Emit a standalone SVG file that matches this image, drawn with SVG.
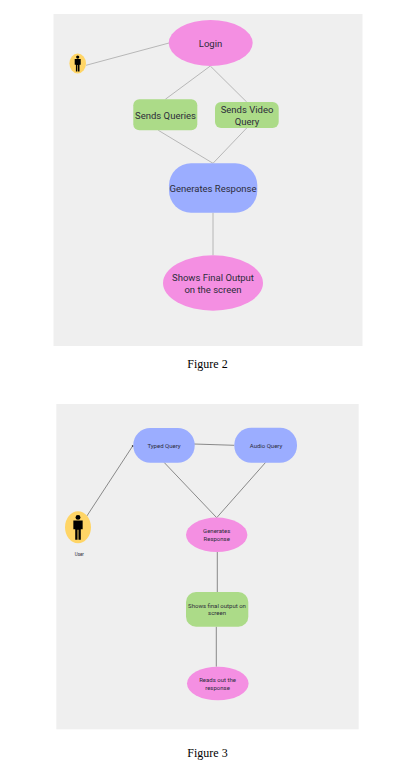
<svg xmlns="http://www.w3.org/2000/svg" width="415" height="766" viewBox="0 0 415 766">
<style>
.panel{fill:#efefef}
.pink{fill:#f48fe2}
.green{fill:#acdb88}
.blue{fill:#9badff}
.yellow{fill:#ffd566}
.t{font-family:"Roboto","Liberation Sans",sans-serif;fill:#2c2c3a;text-anchor:middle}
.a{font-size:9.5px}
.b{font-size:6px}
.cap{font-family:"Liberation Serif",serif;font-size:12px;fill:#000;text-anchor:middle}
.l1{stroke:#a8a8a8;stroke-width:.8;fill:none}
.l2{stroke:#6e6e6e;stroke-width:.8;fill:none}
</style>
<defs>
<g id="man"><circle cx="0" cy="-6.4" r="1.6"/><path d="M-3-4.4H3V1.2H1.8V8H.3V1.6H-.3V8H-1.8V1.2H-3Z"/></g>
</defs>
<rect class="panel" x="53.5" y="14" width="309" height="332"/>
<rect class="panel" x="56.3" y="404" width="302.4" height="325.3"/>
<g id="connectors">
<path class="l1" d="M86 65.3L169 43M210.3 66L165.3 99.3M210.3 66L246.7 102M158.3 130.3L213 163.3M246.7 128L213 163.3"/>
<path class="l1" d="M213 212.7V255.3" stroke-width="1.2"/>
<path class="l2" d="M86 517.3L132.7 446M194 444L234.3 445.3M164 462.3L216.7 517.7M265.7 462.3L216.7 517.7M217.3 552V592M216.3 626.7V666.7"/>
<circle cx="132.7" cy="446" r="0.9" fill="#444"/>
</g>
<g id="login"><ellipse class="pink" cx="210.7" cy="43" rx="42" ry="23"/><text class="t a" x="210.5" y="46.5">Login</text></g>
<g id="user1"><ellipse class="yellow" cx="77.7" cy="63.5" rx="8.3" ry="10"/><use href="#man" transform="translate(77.7 63.5)"/></g>
<g id="sends-queries"><rect class="green" x="133.3" y="99.3" width="64" height="31" rx="6"/><text class="t a" x="165.5" y="118.5">Sends Queries</text></g>
<g id="sends-video"><rect class="green" x="215" y="102" width="63.7" height="26" rx="6"/><text class="t a" x="247" y="113">Sends Video</text><text class="t a" x="247" y="125">Query</text></g>
<g id="generates1"><rect class="blue" x="169" y="163.3" width="88.3" height="49.4" rx="22"/><text class="t a" x="213" y="191.5">Generates Response</text></g>
<g id="shows1"><ellipse class="pink" cx="213" cy="283" rx="50" ry="27.7"/><text class="t a" x="213" y="281">Shows Final Output</text><text class="t a" x="213" y="292.5">on the screen</text></g>
<text class="cap" x="207.5" y="368">Figure 2</text>
<g id="typed"><rect class="blue" x="133.3" y="428" width="61.4" height="34.7" rx="17"/><text class="t b" x="164" y="447.5">Typed Query</text></g>
<g id="audio"><rect class="blue" x="234.3" y="427.7" width="62.7" height="35" rx="17"/><text class="t b" x="266" y="447.5">Audio Query</text></g>
<g id="user2"><ellipse class="yellow" cx="78" cy="527.3" rx="13" ry="16"/><use href="#man" transform="translate(78 527.3) scale(1.55)"/><text class="t" font-size="4.5" x="79.3" y="556">User</text></g>
<g id="generates2"><ellipse class="pink" cx="216.7" cy="534.8" rx="30.7" ry="17.2"/><text class="t b" x="216.7" y="533">Generates</text><text class="t b" x="216.7" y="540.5">Response</text></g>
<g id="shows2"><rect class="green" x="186" y="592" width="62.3" height="34.7" rx="10"/><text class="t b" x="217" y="607.5">Shows final output on</text><text class="t b" x="217" y="615">screen</text></g>
<g id="reads"><ellipse class="pink" cx="217.8" cy="683.5" rx="30.8" ry="16.8"/><text class="t b" x="217.5" y="682">Reads out the</text><text class="t b" x="217.5" y="689.5">response</text></g>
<text class="cap" x="207.5" y="757">Figure 3</text>
</svg>
